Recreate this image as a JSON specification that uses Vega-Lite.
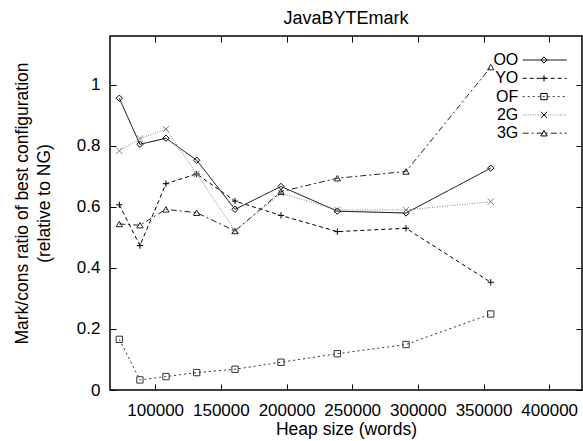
{
  "$schema": "https://vega.github.io/schema/vega-lite/v6.json",
  "width": 472,
  "height": 354,
  "autosize": "none",
  "padding": {"left": 110, "top": 36, "right": 1, "bottom": 51},
  "background": "white",
  "config": {
    "font": "Liberation Sans",
    "view": {"stroke": "black", "strokeWidth": 1.5},
    "axis": {"grid": false, "domain": false, "tickColor": "black", "tickSize": -6, "tickWidth": 1, "labelColor": "black", "labelFont": "Liberation Sans", "labelFontSize": 17, "titleFont": "Liberation Sans", "titleFontSize": 17.5, "titleFontWeight": "normal", "titleColor": "black"},
    "legend": {"labelFont": "Liberation Sans"}
  },
  "title": {"text": "JavaBYTEmark", "fontSize": 18, "fontWeight": "normal", "font": "Liberation Sans", "color": "black", "offset": 8},
  "data": {"values": [
    {"series": "OO", "heap": 72700, "ratio": 0.956},
    {"series": "OO", "heap": 88400, "ratio": 0.805},
    {"series": "OO", "heap": 108200, "ratio": 0.825},
    {"series": "OO", "heap": 131600, "ratio": 0.753},
    {"series": "OO", "heap": 160800, "ratio": 0.592},
    {"series": "OO", "heap": 195800, "ratio": 0.667},
    {"series": "OO", "heap": 238700, "ratio": 0.586},
    {"series": "OO", "heap": 291000, "ratio": 0.580},
    {"series": "OO", "heap": 355500, "ratio": 0.727},
    {"series": "YO", "heap": 72700, "ratio": 0.607},
    {"series": "YO", "heap": 88400, "ratio": 0.473},
    {"series": "YO", "heap": 108200, "ratio": 0.676},
    {"series": "YO", "heap": 131600, "ratio": 0.708},
    {"series": "YO", "heap": 160800, "ratio": 0.619},
    {"series": "YO", "heap": 195800, "ratio": 0.572},
    {"series": "YO", "heap": 238700, "ratio": 0.519},
    {"series": "YO", "heap": 291000, "ratio": 0.530},
    {"series": "YO", "heap": 355500, "ratio": 0.353},
    {"series": "OF", "heap": 72700, "ratio": 0.166},
    {"series": "OF", "heap": 88400, "ratio": 0.033},
    {"series": "OF", "heap": 108200, "ratio": 0.044},
    {"series": "OF", "heap": 131600, "ratio": 0.057},
    {"series": "OF", "heap": 160800, "ratio": 0.068},
    {"series": "OF", "heap": 195800, "ratio": 0.091},
    {"series": "OF", "heap": 238700, "ratio": 0.119},
    {"series": "OF", "heap": 291000, "ratio": 0.149},
    {"series": "OF", "heap": 355500, "ratio": 0.249},
    {"series": "2G", "heap": 72700, "ratio": 0.784},
    {"series": "2G", "heap": 88400, "ratio": 0.824},
    {"series": "2G", "heap": 108200, "ratio": 0.855},
    {"series": "2G", "heap": 131600, "ratio": 0.708},
    {"series": "2G", "heap": 160800, "ratio": 0.522},
    {"series": "2G", "heap": 195800, "ratio": 0.645},
    {"series": "2G", "heap": 238700, "ratio": 0.590},
    {"series": "2G", "heap": 291000, "ratio": 0.590},
    {"series": "2G", "heap": 355500, "ratio": 0.617},
    {"series": "3G", "heap": 72700, "ratio": 0.544},
    {"series": "3G", "heap": 88400, "ratio": 0.540},
    {"series": "3G", "heap": 108200, "ratio": 0.592},
    {"series": "3G", "heap": 131600, "ratio": 0.581},
    {"series": "3G", "heap": 160800, "ratio": 0.521},
    {"series": "3G", "heap": 195800, "ratio": 0.650},
    {"series": "3G", "heap": 238700, "ratio": 0.694},
    {"series": "3G", "heap": 291000, "ratio": 0.716},
    {"series": "3G", "heap": 355500, "ratio": 1.058}
  ]},
  "layer": [
    {
      "mark": {"type": "line", "strokeWidth": 1},
      "encoding": {
        "x": {"field": "heap", "type": "quantitative", "scale": {"domain": [65600, 425000], "nice": false, "zero": false},
              "axis": {"orient": "bottom", "values": [100000, 150000, 200000, 250000, 300000, 350000, 400000], "format": "d", "labelPadding": 18, "title": "Heap size (words)", "titlePadding": 2}},
        "y": {"field": "ratio", "type": "quantitative", "scale": {"domain": [0, 1.16], "nice": false},
              "axis": {"orient": "left", "values": [0, 0.2, 0.4, 0.6, 0.8, 1], "format": "~g", "labelPadding": 16, "title": ["Mark/cons ratio of best configuration", "(relative to NG)"], "titleLineHeight": 22, "titlePadding": 23, "titleY": 167}},
        "stroke": {"field": "series", "type": "nominal",
                   "scale": {"domain": ["OO", "YO", "OF", "2G", "3G"], "range": ["#000000", "#000000", "#333333", "#808080", "#222222"]},
                   "legend": {"orient": "none", "legendX": 426.7, "legendY": 16, "title": null, "symbolType": "M-7,0L7,0", "symbolSize": 39.5, "symbolStrokeWidth": 1, "labelAlign": "right", "labelOffset": -34.4, "labelFontSize": 16, "labelColor": "black", "rowPadding": 2.3, "padding": 0}},
        "strokeDash": {"field": "series", "type": "nominal",
                   "scale": {"domain": ["OO", "YO", "OF", "2G", "3G"], "range": [[1, 0], [4, 3], [2, 3], [1, 1.5], [6, 3, 2, 3]]},
                   "legend": {"orient": "none", "legendX": 426.7, "legendY": 16, "title": null}}
      }
    },
    {
      "mark": {"type": "point", "filled": false, "size": 40, "strokeWidth": 1, "opacity": 1},
      "encoding": {
        "x": {"field": "heap", "type": "quantitative",
              "axis": {"orient": "top", "values": [100000, 150000, 200000, 250000, 300000, 350000, 400000], "labels": false, "title": null}},
        "y": {"field": "ratio", "type": "quantitative",
              "axis": {"orient": "right", "values": [0, 0.2, 0.4, 0.6, 0.8, 1], "labels": false, "title": null}},
        "stroke": {"field": "series", "type": "nominal", "legend": null},
        "shape": {"field": "series", "type": "nominal", "sort": ["OO", "YO", "OF", "2G", "3G"],
                  "scale": {"range": ["diamond", "M-1,0L1,0M0,-1L0,1", "square", "M-1,-1L1,1M1,-1L-1,1", "triangle-up"]},
                  "legend": {"orient": "none", "legendX": 426, "legendY": 16, "title": null, "symbolSize": 40, "symbolStrokeWidth": 1, "symbolStrokeColor": "black", "symbolFillColor": "white", "labelExpr": "''", "labelFontSize": 16, "labelColor": "transparent", "rowPadding": 2.3, "padding": 0}}
      }
    }
  ],
  "resolve": {"axis": {"x": "independent", "y": "independent"}}
}
